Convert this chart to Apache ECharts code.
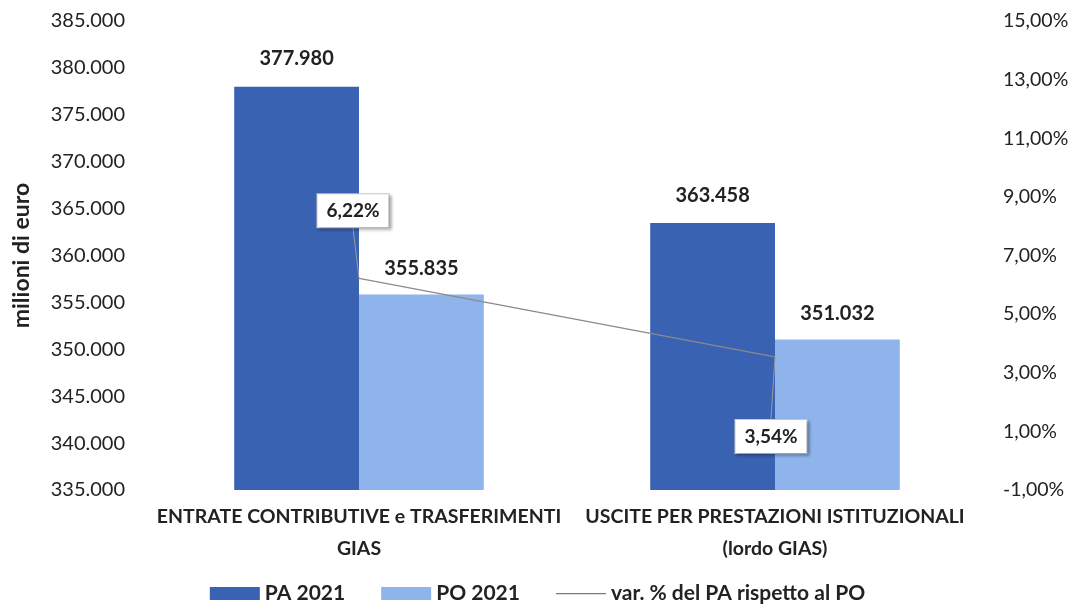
<!DOCTYPE html>
<html>
<head>
<meta charset="utf-8">
<script src="https://cdn.jsdelivr.net/npm/echarts@6/dist/echarts.min.js"></script>
<style>
  html, body { margin: 0; padding: 0; background: #fff; }
  #main { width: 1075px; height: 611px; }
</style>
</head>
<body>
<div id="main"></div>
<script>
// dati del grafico
var categorie = ['ENTRATE CONTRIBUTIVE e TRASFERIMENTI\nGIAS', 'USCITE PER PRESTAZIONI ISTITUZIONALI\n(lordo GIAS)'];
var pa2021 = [377980, 363458];
var po2021 = [355835, 351032];
var variazione = [6.22, 3.54];
var nomiSerie = ['PA 2021', 'PO 2021', 'var. % del PA rispetto al PO'];

var FONT = 'Lato';
var TESTO = '#222';

function migliaia(v) {
    return String(Math.round(v)).replace(/\B(?=(\d{3})+(?!\d))/g, '.');
}
function percento(v) {
    return v.toFixed(2).replace('.', ',') + '%';
}

var myChart = echarts.init(document.getElementById('main'));

var option = {
    backgroundColor: '#fff',
    textStyle: { fontFamily: FONT, color: TESTO },
    grid: { left: 151, right: 92, top: 21, bottom: 121 },
    legend: {
        bottom: 2,
        left: 'center',
        itemWidth: 50,
        itemHeight: 13,
        itemGap: 36,
        textStyle: { fontFamily: FONT, fontSize: 21, fontWeight: 'bold', color: TESTO },
        data: [
            { name: nomiSerie[0], icon: 'rect' },
            { name: nomiSerie[1], icon: 'rect' },
            { name: nomiSerie[2], icon: 'path://M0,0L40,0L40,1L0,1Z' }
        ]
    },
    xAxis: {
        type: 'category',
        data: categorie,
        axisLine: { show: false },
        axisTick: { show: false },
        axisLabel: {
            margin: 11,
            fontSize: 19.5,
            fontWeight: 'bold',
            lineHeight: 32,
            color: TESTO,
            interval: 0
        }
    },
    yAxis: [{
        type: 'value',
        min: 335000,
        max: 385000,
        interval: 5000,
        name: 'milioni di euro',
        nameLocation: 'middle',
        nameGap: 118,
        nameTextStyle: { fontSize: 23, fontWeight: 'bold', color: TESTO },
        splitLine: { show: false },
        axisLine: { show: false },
        axisTick: { show: false },
        axisLabel: { fontSize: 20, color: TESTO, margin: 26, formatter: migliaia }
    }, {
        type: 'value',
        min: -1,
        max: 15,
        interval: 1,
        splitLine: { show: false },
        axisLine: { show: false },
        axisTick: { show: false },
        axisLabel: {
            fontSize: 19.5,
            color: TESTO,
            margin: 20,
            formatter: function (v) {
                return (Math.round(v) % 2 !== 0) ? percento(v) : '';
            }
        }
    }],
    series: [{
        name: nomiSerie[0],
        type: 'bar',
        data: pa2021,
        barGap: '0%',
        barCategoryGap: '40%',
        itemStyle: { color: '#3a62b2' },
        label: {
            show: true, position: 'top', distance: 18,
            fontSize: 20, fontWeight: 'bold', color: TESTO,
            formatter: function (p) { return migliaia(p.value); }
        }
    }, {
        name: nomiSerie[1],
        type: 'bar',
        data: po2021,
        itemStyle: { color: '#8fb4ec' },
        label: {
            show: true, position: 'top', distance: 16,
            fontSize: 20, fontWeight: 'bold', color: TESTO,
            formatter: function (p) { return migliaia(p.value); }
        }
    }, {
        name: nomiSerie[2],
        type: 'line',
        yAxisIndex: 1,
        data: variazione,
        symbol: 'circle',
        symbolSize: 0.01,
        z: 5,
        itemStyle: { color: '#7a7a7a' },
        lineStyle: { color: '#8a8a8a', width: 1.2 },
        label: {
            show: true,
            position: 'top',
            fontSize: 19,
            fontWeight: 'bold',
            color: TESTO,
            backgroundColor: '#fff',
            borderColor: '#c8c8c8',
            borderWidth: 1,
            padding: [7, 9],
            shadowColor: 'rgba(0,0,0,0.25)',
            shadowBlur: 3,
            shadowOffsetX: 2,
            shadowOffsetY: 2,
            formatter: function (p) { return percento(p.value); }
        },
        labelLine: { show: true, lineStyle: { color: '#9a9a9a', width: 1 } },
        labelLayout: function (p) {
            return p.dataIndex === 0 ? { dx: -6, dy: -46 } : { dx: -4, dy: 101 };
        }
    }]
};

myChart.setOption(option);
</script>
</body>
</html>
